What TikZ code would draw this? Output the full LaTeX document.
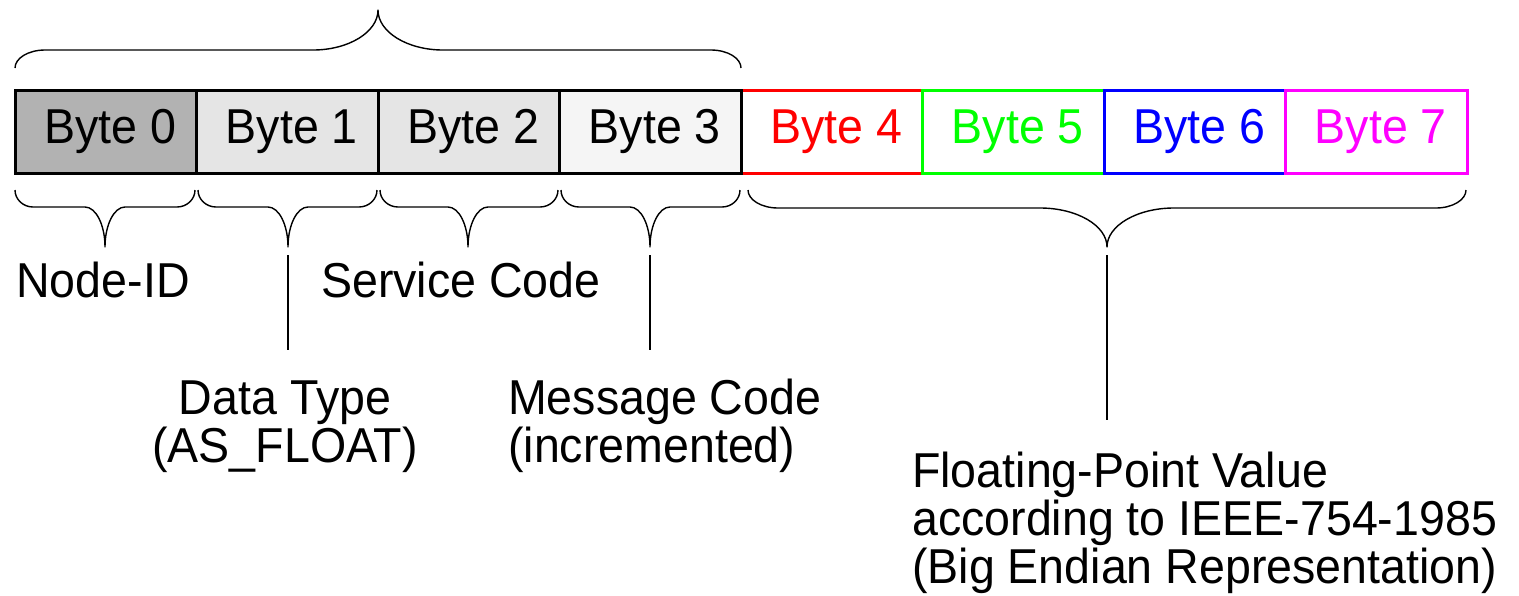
\documentclass[tikz,border=0pt]{standalone}
\usepackage{fontspec}
\setmainfont[FakeStretch=0.95]{Liberation Sans}
\definecolor{bred}{RGB}{255,0,0}
\definecolor{bgreen}{RGB}{0,255,0}
\definecolor{bblue}{RGB}{0,0,255}
\definecolor{bmagenta}{RGB}{255,0,255}
% Horizontal curly brace: x-left, x-right, x-tip, y-ends, y-flat, y-tip, end radius, tip width
\newcommand\HBrace[8]{%
  \draw[brace] (#1,#4) .. controls (#1,{#4+0.55*(#5-#4)}) and ({#1+0.45*#7},#5) .. ({#1+#7},#5)
    -- ({#3-#8},#5) .. controls ({#3-0.45*#8},#5) and (#3,{#5+0.45*(#6-#5)}) .. (#3,#6)
    .. controls (#3,{#5+0.45*(#6-#5)}) and ({#3+0.45*#8},#5) .. ({#3+#8},#5)
    -- ({#2-#7},#5) .. controls ({#2-0.45*#7},#5) and (#2,{#4+0.55*(#5-#4)}) .. (#2,#4);}
\begin{document}
\begin{tikzpicture}[x=1pt,y=-1pt,
  txt/.style={font=\fontsize{49}{48}\selectfont},
  bytebox/.style={txt, draw, line width=3pt, minimum width=181.5pt, minimum height=83pt,
    inner sep=0pt, outer sep=0pt, anchor=north west, execute at begin node={\hspace*{9pt}}},
  brace/.style={line width=1.4pt, line join=round},
  lead/.style={line width=1.4pt},
  caption/.style={txt, inner sep=0pt}]
\useasboundingbox (0,0) rectangle (1519,595);

% float payload bytes (drawn first so the black edge of byte 3 stays on top)
\node[bytebox, draw=bred, text=bred] (b4) at (741,90) {Byte 4};
\node[bytebox, draw=bgreen, text=bgreen] (b5) at (922.5,90) {Byte 5};
\node[bytebox, draw=bblue, text=bblue] (b6) at (1104,90) {Byte 6};
\node[bytebox, draw=bmagenta, text=bmagenta] (b7) at (1285.5,90) {Byte 7};

% header bytes
\node[bytebox, fill=black!30] (b0) at (15,90) {Byte 0};
\node[bytebox, fill=black!10] (b1) at (196.5,90) {Byte 1};
\node[bytebox, fill=black!10] (b2) at (378,90) {Byte 2};
\node[bytebox, fill=black!4] (b3) at (559.5,90) {Byte 3};

% braces
\HBrace{15}{741}{378}{68}{50}{10}{30}{65}
\HBrace{15}{195}{105}{190}{207}{247}{18}{20}
\HBrace{198}{377}{288}{190}{207}{247}{18}{20}
\HBrace{380}{558}{468}{190}{207}{247}{18}{20}
\HBrace{561}{740}{650}{190}{207}{247}{18}{20}
\HBrace{748}{1466}{1107}{190}{208}{247}{30}{67}

% captions (base anchor of a multi-line caption is its last line)
\node[caption, anchor=base] (nodeid) at (103,297) {Node-ID};
\node[caption, anchor=base] (svc) at (461,297) {Service Code};
\node[caption, align=center, anchor=base] (dtype) at (285,462) {Data Type\\(AS\_FLOAT)};
\node[caption, align=left, anchor=base west] (msg) at (508,462) {Message Code\\(incremented)};
\node[caption, align=left, anchor=base west] (fpv) at (912,583) {Floating-Point Value\\according to IEEE-754-1985\\(Big Endian Representation)};

% leader lines from brace tips towards captions
\coordinate (t1) at (288,255); \coordinate (e1) at (288,350);
\coordinate (t3) at (650,255); \coordinate (e3) at (650,350);
\coordinate (t5) at (1107,255); \coordinate (e5) at (1107,420);
\draw[lead] (t1) -- (e1);
\draw[lead] (t3) -- (e3);
\draw[lead] (t5) -- (e5);
\end{tikzpicture}
\end{document}
